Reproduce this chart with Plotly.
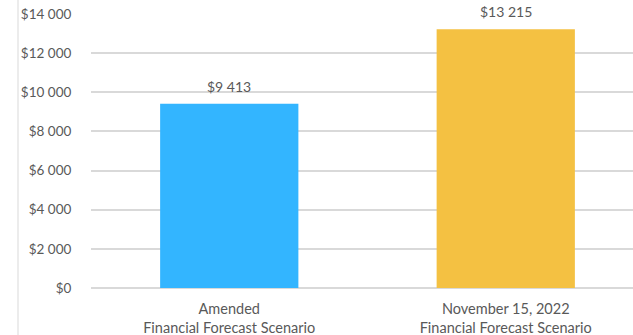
import plotly.graph_objects as go

categories = ["Amended<br>Financial Forecast Scenario", "November 15, 2022<br>Financial Forecast Scenario"]
values = [9413, 13215]
colors = ["#33B5FF", "#F4C142"]
tick_vals = [0, 2000, 4000, 6000, 8000, 10000, 12000, 14000]
tick_text = ["$" + f"{v:,}".replace(",", " ") for v in tick_vals]

fig = go.Figure(go.Bar(
    x=categories, y=values, marker=dict(color=colors, line=dict(width=0)),
    width=0.5, hoverinfo="skip",
))

for c, v in zip(categories, values):
    fig.add_annotation(x=c, y=v, text="$" + f"{v:,}".replace(",", " "),
                       showarrow=False, yanchor="bottom", yshift=7,
                       font=dict(family="Lato", size=14, color="#595959"))

L, R = 91, 633
fig.update_layout(
    width=633, height=335,
    margin=dict(l=L, r=0, t=14, b=47),
    paper_bgcolor="white", plot_bgcolor="white",
    showlegend=False,
    font=dict(family="Lato", size=13, color="#595959"),
    xaxis=dict(range=[-0.5, 1.5 - 11/276.5], showgrid=False, showline=False,
               tickfont=dict(size=14.5, color="#595959"),
               ticks="outside", ticklen=8, tickcolor="rgba(0,0,0,0)"),
    yaxis=dict(range=[0, 14000], tickmode="array", tickvals=tick_vals, ticktext=tick_text,
               showgrid=True, gridcolor="#D9D9D9", gridwidth=1.5,
               zeroline=True, zerolinecolor="#D9D9D9", zerolinewidth=1.5,
               ticks="outside", ticklen=16, tickcolor="rgba(0,0,0,0)",
               tickfont=dict(size=13.5, color="#595959")),
    shapes=[dict(type="line", xref="paper", yref="paper",
                 x0=(18 - L) / (R - L), x1=(18 - L) / (R - L), y0=-1, y1=2,
                 line=dict(color="#D9D9D9", width=1))],
)
fig.write_html("out.html")
